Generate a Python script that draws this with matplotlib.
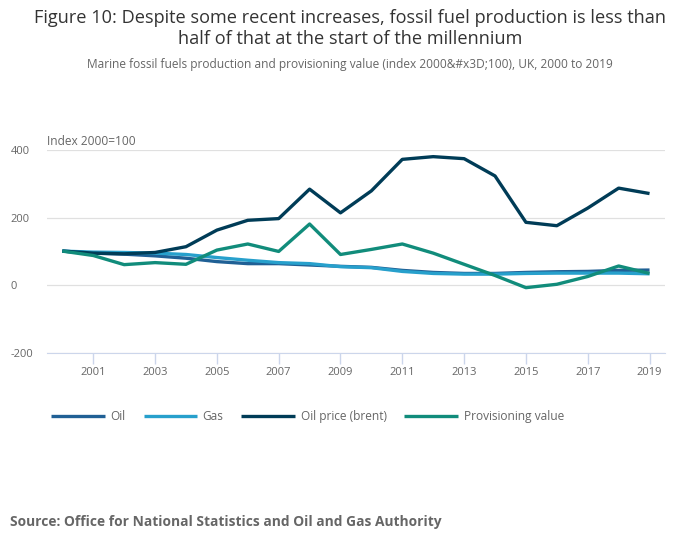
import matplotlib.pyplot as plt
from matplotlib.ticker import MultipleLocator

plt.rcParams['font.family'] = ['Open Sans', 'DejaVu Sans']
plt.rcParams['axes.unicode_minus'] = False

years = list(range(2000, 2020))
oil = [101, 95, 92, 87, 80, 70, 64, 64, 60, 56, 53, 44, 38, 35, 35, 38, 40, 41, 44, 45]
gas = [101, 98, 97, 95, 91, 82, 74, 67, 64, 55, 52, 41, 35, 33, 33, 35, 36, 36, 36, 34]
oil_price = [101, 95, 93, 97, 114, 163, 192, 197, 284, 214, 279, 372, 380, 374, 323, 186, 176, 228, 287, 271]
provisioning = [101, 88, 61, 67, 62, 104, 122, 100, 181, 91, 106, 122, 95, 62, 29, -7, 3, 26, 57, 35]

series = [
    ('Oil', oil, '#206095'),
    ('Gas', gas, '#27a0cc'),
    ('Oil price (brent)', oil_price, '#003c57'),
    ('Provisioning value', provisioning, '#118c7b'),
]

fig = plt.figure(figsize=(7, 5.49), dpi=100)
ax = fig.add_axes([0.067, 0.357, 0.883, 0.370])

for name, vals, col in series:
    ax.plot(years, vals, color=col, lw=2.4, label=name, solid_capstyle='butt')

ax.set_xlim(1999.5, 2019.5)
ax.set_ylim(-200, 400)
ax.yaxis.set_major_locator(MultipleLocator(200))
ax.set_xticks(list(range(2001, 2020, 2)))
ax.grid(axis='y', color='#e0e0e0', lw=0.9)
ax.set_axisbelow(True)
for s in ['top', 'right', 'left']:
    ax.spines[s].set_visible(False)
ax.spines['bottom'].set_color('#ccd6eb')
ax.tick_params(axis='x', colors='#ccd6eb', labelcolor='#666666', labelsize=8, length=8, width=1, pad=2)
ax.tick_params(axis='y', length=0, labelcolor='#666666', labelsize=8, pad=26)
for lbl in ax.get_yticklabels():
    lbl.set_horizontalalignment('left')

ax.text(0, 1.01, 'Index 2000=100', transform=ax.transAxes, fontsize=8.6, color='#666666', va='bottom', ha='left')

fig.text(0.5, 0.948, 'Figure 10: Despite some recent increases, fossil fuel production is less than\nhalf of that at the start of the millennium',
         ha='center', va='center', fontsize=13.1, color='#333333', linespacing=1.2)
fig.text(0.5, 0.882, 'Marine fossil fuels production and provisioning value (index 2000&#x3D;100), UK, 2000 to 2019',
         ha='center', va='center', fontsize=8.6, color='#666666')

leg = fig.legend(loc='center left', bbox_to_anchor=(0.058, 0.241), ncol=4, frameon=False,
                 fontsize=8.6, handlelength=4.5, columnspacing=1.5, handletextpad=0.45)
for t in leg.get_texts():
    t.set_color('#666666')

fig.text(0.014, 0.049, 'Source: Office for National Statistics and Oil and Gas Authority',
         ha='left', va='center', fontsize=9.9, fontweight='bold', color='#666666')

fig.savefig('out.png', dpi=100)
